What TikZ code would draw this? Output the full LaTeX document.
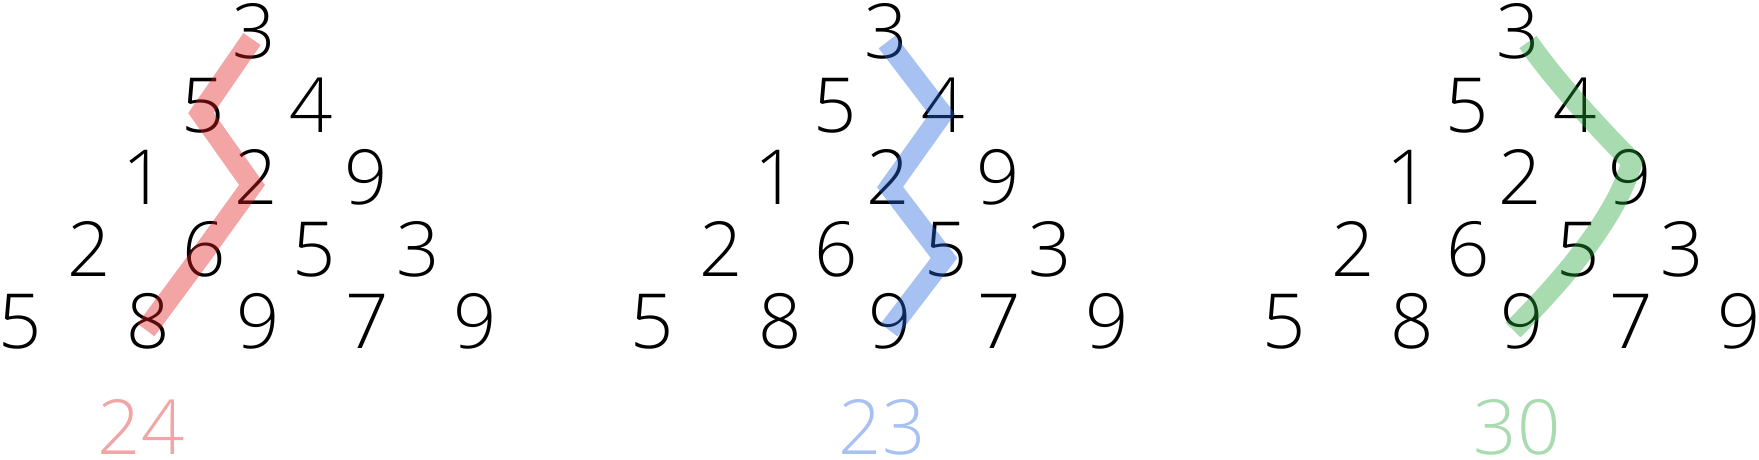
\documentclass[tikz,border=0pt]{standalone}
\usepackage{fontspec}
\IfFontExistsTF{Open Sans Light}{\setmainfont{Open Sans Light}}{\setmainfont{Open Sans}}
\usetikzlibrary{calc}
\definecolor{pinkC}{RGB}{225,30,30}
\definecolor{blueC}{RGB}{35,100,222}
\definecolor{greenC}{RGB}{37,165,57}
\definecolor{pinkS}{RGB}{242,165,165}
\definecolor{blueS}{RGB}{167,193,242}
\definecolor{greenS}{RGB}{168,219,176}
\begin{document}
\begin{tikzpicture}[x=1pt,y=-1pt,
  digit/.style={font=\fontsize{76}{80}\selectfont, inner sep=0pt, anchor=base},
  pathline/.style={line width=21pt, draw opacity=0.4, line join=miter, line cap=butt}]
\useasboundingbox (0,0) rectangle (1759,459);
\foreach \t/\dx in {1/0,2/632,3/1264}{
  \node[digit] (n\t-0-0) at (254+\dx,58) {3};
  \node[digit] (n\t-1-0) at (203+\dx,132) {5};
  \node[digit] (n\t-1-1) at (311+\dx,132) {4};
  \node[digit] (n\t-2-0) at (144+\dx,204) {1};
  \node[digit] (n\t-2-1) at (256+\dx,204) {2};
  \node[digit] (n\t-2-2) at (366+\dx,204) {9};
  \node[digit] (n\t-3-0) at (89+\dx,276) {2};
  \node[digit] (n\t-3-1) at (204+\dx,276) {6};
  \node[digit] (n\t-3-2) at (314+\dx,276) {5};
  \node[digit] (n\t-3-3) at (418+\dx,276) {3};
  \node[digit] (n\t-4-0) at (20+\dx,348) {5};
  \node[digit] (n\t-4-1) at (148+\dx,348) {8};
  \node[digit] (n\t-4-2) at (258+\dx,348) {9};
  \node[digit] (n\t-4-3) at (367+\dx,348) {7};
  \node[digit] (n\t-4-4) at (475+\dx,348) {9};
}
% pink path
\draw[pathline, draw=pinkC] ($(n1-0-0.base)+(-2,-19)$) -- ($(n1-1-0.base)+(-2,-19)$)
  -- ($(n1-2-1.base)+(-4,-19)$) -- ($(n1-3-1.base)+(-4,-19)$) -- ($(n1-4-1.base)+(-2,-18)$);
% blue path
\draw[pathline, draw=blueC] ($(n2-0-0.base)+(1,-16)$) -- ($(n2-1-1.base)+(-1,-18)$)
  -- ($(n2-2-1.base)+(2,-17)$) -- ($(n2-3-2.base)+(-2,-18)$) -- ($(n2-4-2.base)+(-1,-18)$);
% green path
\draw[pathline, draw=greenC] ($(n3-0-0.base)+(10,-16)$)
  .. controls ($(n3-1-1.base)+(-24,-57)$) and ($(n3-1-1.base)+(11,-17)$) .. ($(n3-2-2.base)+(2,-42)$)
  .. controls ($(n3-3-2.base)+(41,-68)$) and ($(n3-3-2.base)+(1,-12)$) .. ($(n3-4-2.base)+(-9,-18)$);
% sums
\node[digit, text=pinkS] (s1) at (141,454) {24};
\node[digit, text=blueS] (s2) at (882,454) {23};
\node[digit, text=greenS] (s3) at (1517,454) {30};
\end{tikzpicture}
\end{document}
